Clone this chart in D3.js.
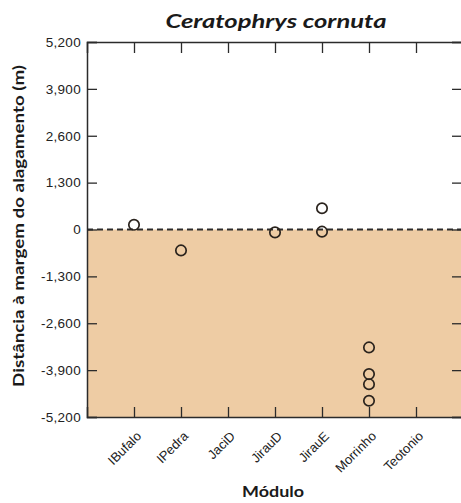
<!DOCTYPE html>
<html>
<head>
<meta charset="utf-8">
<script src="https://cdn.jsdelivr.net/npm/d3@7"></script>
<style>
  html, body { margin: 0; padding: 0; background: #fff; }
  svg { display: block; }
</style>
</head>
<body>
<svg id="chart" width="461" height="503"></svg>
<script>
// Module names along the x axis
const modules = ["IBufalo", "IPedra", "JaciD", "JirauD", "JirauE", "Morrinho", "Teotonio"];
// Recorded distances to the flood margin (m), one entry per observation
const obsModule = ["IBufalo", "IPedra", "JirauD", "JirauE", "JirauE", "Morrinho", "Morrinho", "Morrinho", "Morrinho"];
const obsDistance = [130, -580, -80, 590, -60, -3270, -4010, -4290, -4750];
// Y axis tick values
const yTicks = [-5200, -3900, -2600, -1300, 0, 1300, 2600, 3900, 5200];

const svg = d3.select("#chart");
const plotL = 87, plotR = 463, plotT = 42, plotB = 417;

const x = d3.scalePoint().domain(modules).range([plotL, plotR]).padding(1);
const y = d3.scaleLinear().domain([-5200, 5200]).range([plotB, plotT]);

const fmt = d3.formatLocale({ decimal: ".", thousands: ",", grouping: [3], currency: ["", ""], minus: "-" }).format(",");

// Shaded zone below the flood margin
svg.append("rect")
  .attr("x", plotL).attr("y", y(0))
  .attr("width", plotR - plotL).attr("height", plotB - y(0))
  .attr("fill", "#eecca4");

const axisColor = "#2b2b2b";

// Frame axes with inward ticks
const gL = svg.append("g").attr("transform", `translate(${plotL},0)`)
  .call(d3.axisRight(y).tickValues(yTicks).tickSize(10).tickFormat(""));
const gR = svg.append("g").attr("transform", `translate(${plotR},0)`)
  .call(d3.axisLeft(y).tickValues(yTicks).tickSize(11).tickFormat(""));
const gT = svg.append("g").attr("transform", `translate(0,${plotT})`)
  .call(d3.axisBottom(x).tickSize(11).tickFormat(""));
const gB = svg.append("g").attr("transform", `translate(0,${plotB})`)
  .call(d3.axisTop(x).tickSize(10).tickFormat(""));
[gL, gR, gT, gB].forEach(g => {
  g.selectAll(".domain").attr("stroke", axisColor).attr("stroke-width", 1.5);
  g.selectAll(".tick line").attr("stroke", axisColor).attr("stroke-width", 1.3);
});

// Y tick labels
svg.append("g").selectAll("text").data(yTicks).join("text")
  .attr("x", plotL - 6).attr("y", d => y(d))
  .attr("dy", "0.36em")
  .attr("text-anchor", "end")
  .attr("font-family", "Liberation Sans, Arial, sans-serif")
  .attr("font-size", 13.5)
  .attr("letter-spacing", 0.3)
  .attr("fill", "#222")
  .text(d => fmt(d));

// X tick labels, rotated
svg.append("g").selectAll("text").data(modules).join("text")
  .attr("transform", d => `translate(${x(d) + 8},${437}) rotate(-45)`)
  .attr("text-anchor", "end")
  .attr("font-family", "Liberation Sans, Arial, sans-serif")
  .attr("font-size", 13)
  .attr("fill", "#222")
  .text(d => d);

// Flood margin reference line
svg.append("line")
  .attr("x1", plotL).attr("x2", plotR)
  .attr("y1", y(0)).attr("y2", y(0))
  .attr("stroke", "#2a2a2a").attr("stroke-width", 2)
  .attr("stroke-dasharray", "6,4");

// Observations as open circles
svg.append("g").selectAll("circle").data(obsDistance).join("circle")
  .attr("cx", (d, i) => x(obsModule[i]))
  .attr("cy", d => y(d))
  .attr("r", 5.2)
  .attr("fill", "none")
  .attr("stroke", "#2a231d")
  .attr("stroke-width", 1.7);

// Titles
svg.append("text")
  .attr("x", 276).attr("y", 28)
  .attr("text-anchor", "middle")
  .attr("font-family", "Lato, sans-serif")
  .attr("font-style", "italic").attr("font-weight", "bold")
  .attr("font-size", 19)
  .attr("textLength", 221).attr("lengthAdjust", "spacingAndGlyphs")
  .attr("fill", "#1a1a1a")
  .text("Ceratophrys cornuta");

svg.append("text")
  .attr("x", 273).attr("y", 497)
  .attr("text-anchor", "middle")
  .attr("font-family", "Lato, sans-serif")
  .attr("font-weight", "bold")
  .attr("font-size", 16)
  .attr("textLength", 62).attr("lengthAdjust", "spacingAndGlyphs")
  .attr("fill", "#1a1a1a")
  .text("Módulo");

svg.append("text")
  .attr("transform", "translate(24,226) rotate(-90)")
  .attr("text-anchor", "middle")
  .attr("font-family", "Lato, sans-serif")
  .attr("font-weight", "bold")
  .attr("font-size", 16)
  .attr("textLength", 322).attr("lengthAdjust", "spacingAndGlyphs")
  .attr("fill", "#1a1a1a")
  .text("Distância à margem do alagamento (m)");
</script>
</body>
</html>
